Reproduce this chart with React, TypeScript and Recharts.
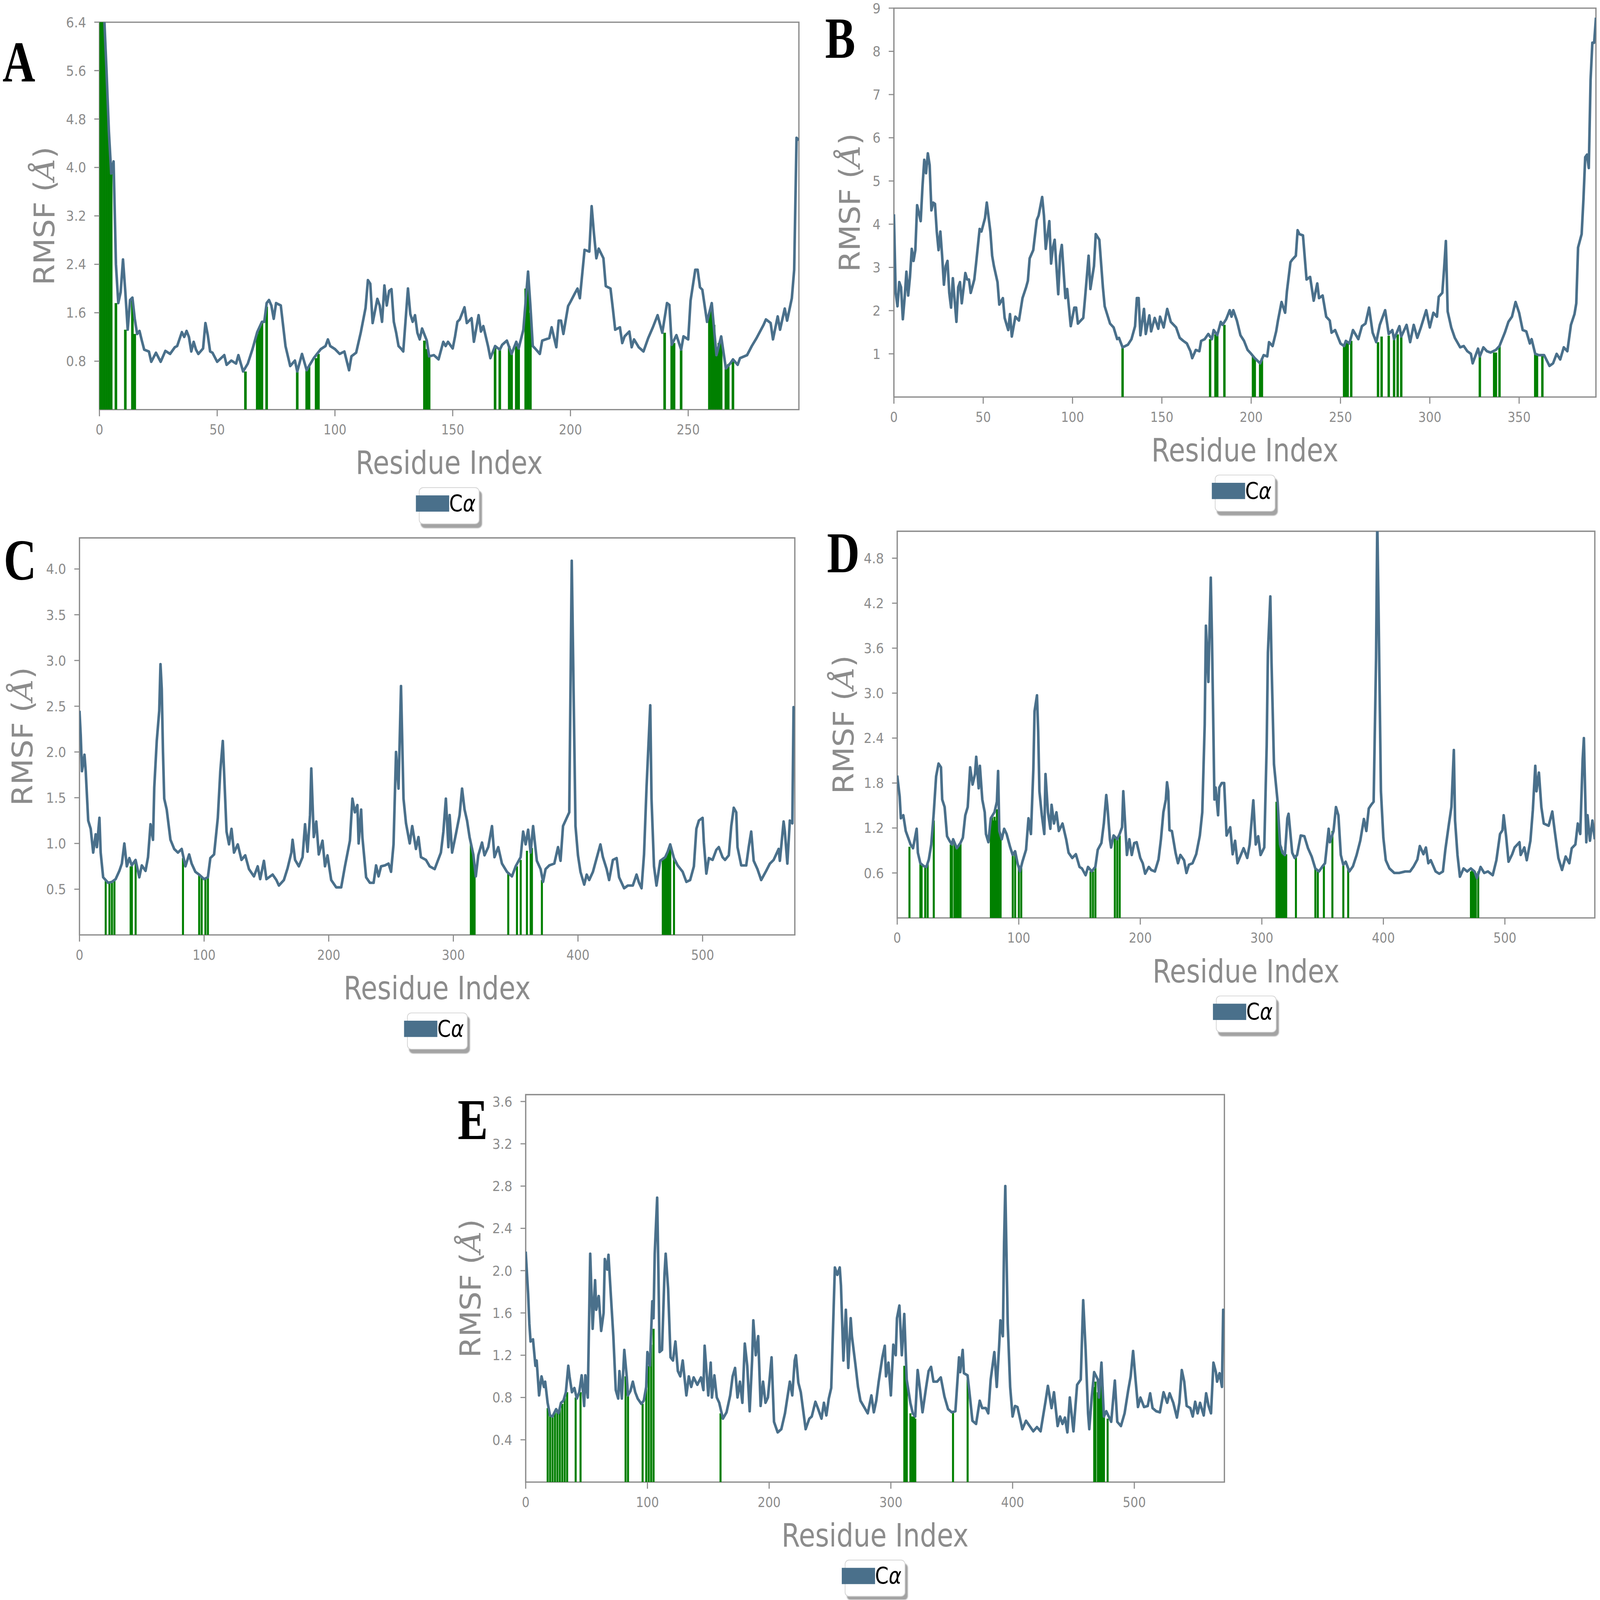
import React from "react";
import { ComposedChart, Line, Bar, XAxis, YAxis, ReferenceArea, Legend } from "recharts";

// RMSF (residue, value), plus green contact bars (residue, height)
const rmsfA: [number, number][] = [
  [0,7.0],[1,7.0],[2,6.5],[3,5.6],[4,4.6],[5,3.9],[6,4.1],[7,2.4],[8,1.76],[9,1.94],[10,2.48],[11,1.94],[12,1.32],[13,1.81],[14,1.85],[15,1.5],[16,1.25],[17,1.3],[18,1.14],[19,0.99],[21,0.96],[22,0.79],[24,0.94],[26,0.79],[28,0.97],[30,0.92],[32,1.03],[33,1.05],[35,1.28],[36,1.2],[37,1.3],[38,1.2],[39,0.96],[40,1.12],[41,0.99],[42,0.92],[44,1.01],[45,1.43],[46,1.23],[47,0.96],[48,0.94],[50,0.79],[53,0.9],[54,0.74],[56,0.81],[58,0.76],[59,0.9],[61,0.63],[63,0.76],[65,1.0],[67,1.28],[69,1.45],[70,1.45],[71,1.76],[72,1.81],[73,1.72],[74,1.5],[75,1.76],[77,1.72],[79,1.05],[81,0.72],[83,0.81],[84,0.63],[86,0.92],[88,0.65],[89,0.72],[91,0.85],[94,1.0],[96,1.05],[97,1.16],[98,1.05],[100,1.0],[102,0.92],[104,0.96],[106,0.65],[107,0.88],[109,0.94],[111,1.28],[113,1.68],[114,2.14],[115,2.08],[116,1.43],[118,1.83],[119,1.72],[120,1.45],[121,2.05],[122,1.72],[123,1.96],[124,1.99],[125,1.45],[126,1.27],[127,1.05],[128,1.01],[129,0.96],[131,2.0],[132,1.58],[133,1.45],[134,1.56],[135,1.27],[136,1.16],[137,1.34],[139,1.14],[140,0.88],[142,0.9],[144,0.83],[146,1.12],[147,1.05],[148,1.12],[150,1.01],[151,1.21],[152,1.45],[153,1.49],[155,1.69],[156,1.43],[158,1.51],[159,1.12],[161,1.56],[162,1.29],[163,1.38],[165,1.05],[166,0.85],[168,1.05],[170,0.99],[171,1.07],[173,1.14],[175,0.92],[177,1.12],[178,1.01],[180,1.32],[182,2.28],[183,1.71],[184,1.05],[185,1.01],[187,0.92],[188,1.14],[191,1.18],[192,1.36],[194,1.03],[195,1.47],[196,1.47],[197,1.25],[199,1.71],[200,1.78],[202,1.93],[203,2.0],[204,1.84],[206,2.64],[208,2.61],[209,3.36],[210,2.9],[211,2.5],[212,2.66],[214,2.5],[215,2.04],[217,2.0],[218,1.67],[219,1.32],[221,1.36],[222,1.1],[223,1.21],[225,1.29],[226,1.03],[227,1.16],[229,1.03],[231,0.96],[233,1.18],[235,1.36],[237,1.56],[239,1.27],[241,1.76],[242,1.73],[243,1.07],[245,1.23],[247,0.99],[248,1.21],[250,1.16],[251,1.8],[253,2.31],[254,2.31],[255,2.02],[256,1.98],[258,1.45],[260,1.76],[261,1.32],[262,0.9],[264,1.21],[266,0.68],[268,0.77],[269,0.83],[271,0.74],[272,0.85],[275,0.9],[277,1.05],[279,1.18],[282,1.4],[283,1.49],[285,1.43],[286,1.16],[288,1.54],[289,1.32],[291,1.67],[292,1.47],[294,1.84],[295,2.31],[296,4.49],[297,4.45],
];
const contactsA: [number, number][] = [
  [0,7],[1,7],[2,6.6],[3,5.6],[4,4.6],[5,3.9],[7,1.76],[11,1.32],[14,1.8],[15,1.25],[62,0.63],[67,1.25],[68,1.35],[69,1.45],[71,1.7],[84,0.63],[88,0.65],[89,0.72],[92,0.85],[93,0.92],[138,1.14],[139,1.0],[140,0.88],[168,1.05],[170,0.99],[174,1.05],[175,0.95],[177,1.05],[178,1.0],[181,2.0],[182,2.2],[183,1.6],[240,1.27],[243,1.07],[244,1.1],[247,0.99],[259,1.6],[260,1.7],[261,1.4],[262,1.0],[263,1.1],[264,1.2],[266,0.7],[267,0.75],[269,0.8],
];

const rmsfB: [number, number][] = [
  [0,4.23],[1,2.41],[2,2.1],[3,2.66],[4,2.54],[5,1.8],[6,2.29],[7,2.9],[8,2.35],[9,2.78],[10,3.43],[11,3.15],[12,3.4],[13,4.44],[15,4.07],[16,4.87],[17,5.49],[18,5.18],[19,5.64],[20,5.37],[21,4.32],[22,4.5],[23,4.47],[24,3.83],[25,3.4],[26,3.83],[27,3.27],[28,2.6],[29,3.03],[30,3.15],[31,2.41],[32,2.07],[33,2.75],[35,1.74],[36,2.54],[37,2.66],[38,2.17],[40,2.87],[41,2.72],[42,2.72],[43,2.41],[45,2.72],[46,3.09],[48,3.89],[49,3.83],[51,4.14],[52,4.5],[54,3.83],[55,3.27],[56,3.03],[58,2.66],[59,2.14],[61,2.29],[62,1.83],[64,1.55],[65,1.92],[66,1.4],[68,1.86],[70,1.77],[72,2.29],[74,2.54],[75,2.69],[76,3.21],[78,3.4],[80,4.1],[81,4.2],[83,4.63],[84,4.2],[85,3.43],[87,4.07],[88,3.09],[89,3.46],[90,3.64],[92,2.38],[93,3.27],[94,3.52],[96,2.29],[97,2.5],[99,1.64],[101,2.07],[102,2.07],[103,1.7],[106,1.83],[107,2.29],[109,3.27],[110,2.5],[112,3.03],[113,3.77],[115,3.64],[117,2.54],[118,2.1],[121,1.7],[123,1.61],[125,1.34],[126,1.37],[128,1.15],[131,1.21],[133,1.34],[135,1.64],[136,2.29],[137,2.29],[138,1.43],[140,2.04],[141,1.46],[143,1.89],[144,1.52],[146,1.83],[148,1.58],[149,1.86],[151,1.61],[153,2.04],[155,1.74],[158,1.61],[160,1.37],[162,1.3],[164,1.24],[166,1.06],[167,0.9],[169,1.09],[171,1.06],[172,1.3],[174,1.34],[176,1.46],[178,1.34],[179,1.55],[181,1.43],[183,1.74],[184,1.67],[186,1.8],[188,2.01],[189,1.86],[190,2.01],[192,1.77],[194,1.43],[196,1.3],[198,1.09],[200,1.0],[202,0.9],[205,0.78],[207,0.97],[209,0.94],[210,1.27],[212,1.18],[214,1.52],[215,1.77],[217,2.2],[219,1.95],[220,2.44],[222,3.12],[223,3.18],[225,3.27],[226,3.86],[227,3.77],[229,3.74],[231,2.72],[233,2.78],[235,2.23],[237,2.63],[238,2.29],[240,2.35],[242,1.86],[244,1.77],[245,1.49],[247,1.55],[250,1.24],[252,1.18],[253,1.3],[255,1.24],[257,1.55],[260,1.34],[262,1.64],[264,1.7],[266,2.07],[268,1.49],[270,1.27],[272,1.67],[275,2.01],[277,1.46],[279,1.55],[280,1.34],[283,1.64],[284,1.4],[287,1.67],[289,1.27],[291,1.67],[293,1.37],[295,1.61],[298,2.01],[300,1.61],[302,1.95],[304,1.86],[305,2.32],[307,2.41],[308,2.97],[309,3.61],[310,1.98],[312,1.61],[314,1.37],[317,1.15],[319,1.18],[321,1.06],[323,1.0],[324,0.78],[327,1.12],[328,0.94],[330,1.15],[332,1.06],[334,1.03],[337,1.09],[339,1.18],[342,1.49],[344,1.74],[346,1.86],[348,2.2],[350,1.95],[352,1.55],[354,1.52],[356,1.24],[357,1.34],[359,1.0],[361,0.97],[364,0.97],[367,0.72],[369,0.78],[371,1.0],[373,0.87],[375,1.15],[377,1.06],[379,1.67],[381,1.92],[382,2.17],[383,3.46],[385,3.77],[386,4.57],[387,5.55],[388,5.61],[389,5.3],[390,7.34],[391,8.2],[392,8.2],[393,8.78],
];
const contactsB: [number, number][] = [
  [128,1.15],[177,1.34],[180,1.45],[181,1.43],[185,1.67],[201,0.95],[202,0.9],[205,0.8],[206,0.9],[252,1.18],[253,1.25],[254,1.25],[256,1.3],[271,1.27],[273,1.4],[277,1.42],[280,1.4],[282,1.45],[284,1.5],[328,0.94],[336,1.03],[337,1.03],[339,1.18],[359,1.0],[360,1.0],[363,0.95],
];

const rmsfC: [number, number][] = [
  [0,2.45],[1,2.18],[2,1.79],[4,1.97],[5,1.79],[7,1.25],[9,1.16],[11,0.9],[13,1.1],[14,0.96],[16,1.28],[17,0.9],[19,0.63],[23,0.57],[26,0.58],[29,0.61],[32,0.7],[34,0.78],[36,1.0],[38,0.75],[40,0.84],[42,0.76],[45,0.82],[48,0.63],[50,0.76],[53,0.7],[55,0.85],[57,1.21],[59,1.04],[60,1.61],[62,2.12],[64,2.45],[65,2.96],[66,2.69],[67,2.0],[68,1.49],[70,1.37],[73,1.04],[76,0.94],[79,0.9],[82,0.94],[85,0.75],[88,0.88],[90,0.78],[93,0.69],[96,0.66],[100,0.61],[103,0.63],[105,0.84],[108,0.88],[111,1.28],[113,1.79],[115,2.12],[116,1.79],[118,1.13],[120,0.99],[122,1.16],[124,0.9],[127,0.99],[130,0.82],[133,0.87],[136,0.72],[140,0.64],[143,0.75],[145,0.61],[148,0.81],[150,0.61],[155,0.66],[158,0.6],[160,0.54],[164,0.6],[167,0.73],[170,0.9],[171,1.04],[173,0.82],[176,0.75],[179,0.85],[181,1.21],[183,0.91],[185,1.31],[186,1.82],[188,1.07],[190,1.24],[192,0.88],[195,1.03],[197,0.75],[199,0.87],[202,0.6],[206,0.52],[210,0.52],[213,0.75],[217,1.03],[219,1.49],[221,1.34],[223,1.42],[224,1.0],[226,1.37],[227,1.07],[230,0.63],[233,0.57],[236,0.57],[238,0.76],[240,0.64],[242,0.75],[245,0.76],[248,0.78],[250,0.69],[252,0.99],[254,2.0],[256,1.6],[258,2.72],[260,1.49],[262,1.22],[265,1.0],[267,1.19],[270,0.94],[272,1.07],[274,0.85],[278,0.82],[281,0.75],[285,0.72],[290,0.9],[292,1.13],[294,1.49],[296,0.96],[297,1.31],[299,0.9],[302,1.1],[305,1.31],[307,1.6],[309,1.37],[311,1.25],[313,1.07],[316,0.88],[318,0.64],[320,0.87],[323,1.01],[325,0.87],[328,0.96],[331,1.19],[333,0.85],[336,0.96],[339,0.78],[343,0.69],[347,0.64],[350,0.75],[354,0.85],[356,1.13],[358,0.99],[360,1.15],[362,0.9],[364,1.19],[367,0.81],[370,0.72],[372,0.58],[374,0.72],[377,0.76],[381,0.78],[384,0.96],[386,0.81],[388,1.19],[390,1.25],[393,1.34],[394,2.69],[395,4.09],[396,3.13],[398,1.19],[400,0.87],[402,0.69],[405,0.55],[407,0.66],[409,0.6],[412,0.69],[415,0.84],[418,0.99],[420,0.85],[423,0.72],[425,0.6],[428,0.82],[431,0.84],[433,0.63],[437,0.51],[440,0.54],[444,0.54],[447,0.66],[449,0.57],[451,0.51],[453,0.88],[455,1.61],[458,2.51],[459,1.49],[461,0.75],[463,0.54],[466,0.81],[470,0.85],[472,0.91],[474,0.99],[477,0.84],[480,0.76],[484,0.69],[487,0.58],[490,0.6],[493,0.75],[495,1.16],[497,1.25],[500,1.28],[501,1.01],[503,0.67],[505,0.84],[508,0.82],[511,0.93],[513,0.96],[516,0.85],[518,0.82],[521,0.87],[523,1.19],[525,1.39],[527,1.34],[528,0.96],[531,0.76],[535,0.76],[537,0.96],[539,1.13],[541,0.81],[544,0.72],[547,0.6],[551,0.7],[554,0.78],[557,0.82],[561,0.94],[562,0.81],[565,1.24],[566,1.13],[568,0.78],[570,1.25],[572,1.22],[573,2.49],[574,2.45],
];
const contactsC: [number, number][] = [
  [21,0.6],[24,0.58],[26,0.58],[28,0.6],[41,0.75],[42,0.76],[45,0.8],[83,0.84],[96,0.66],[98,0.63],[101,0.62],[103,0.63],[314,1.0],[315,0.95],[316,0.88],[317,0.75],[344,0.67],[351,0.75],[354,0.82],[359,0.92],[362,0.9],[363,0.95],[371,0.6],[468,0.82],[469,0.85],[470,0.85],[471,0.88],[472,0.9],[473,0.95],[474,0.95],[477,0.84],
];

const rmsfD: [number, number][] = [
  [0,1.9],[2,1.62],[3,1.33],[5,1.37],[7,1.16],[9,1.07],[11,0.98],[13,0.93],[16,1.19],[17,0.87],[19,0.73],[22,0.69],[24,0.68],[26,0.78],[28,0.98],[30,1.39],[32,1.89],[34,2.06],[36,2.01],[37,1.58],[39,1.48],[41,1.09],[43,1.03],[45,0.98],[46,1.05],[49,0.93],[52,1.0],[54,1.07],[56,1.37],[58,1.48],[60,2.01],[62,1.78],[64,1.92],[65,2.15],[67,1.73],[68,2.03],[70,1.58],[72,1.41],[73,1.12],[75,1.01],[77,1.33],[80,1.41],[82,1.55],[83,1.96],[84,1.16],[86,1.05],[88,1.19],[90,1.12],[93,0.94],[95,0.84],[97,0.89],[99,0.73],[101,0.62],[103,0.75],[106,0.91],[108,1.33],[110,1.12],[112,1.98],[113,2.76],[115,2.97],[116,2.48],[117,1.69],[119,1.37],[121,1.12],[122,1.92],[124,1.41],[126,1.19],[127,1.51],[129,1.26],[131,1.41],[133,1.16],[136,1.26],[139,1.05],[141,0.87],[144,0.8],[147,0.85],[150,0.68],[152,0.66],[155,0.57],[157,0.68],[160,0.62],[163,0.68],[165,0.91],[168,1.0],[170,1.26],[172,1.64],[173,1.48],[175,1.05],[176,0.94],[178,1.1],[181,1.05],[183,1.12],[185,1.21],[186,1.69],[189,0.84],[191,1.05],[193,0.84],[195,1.0],[197,1.01],[200,0.8],[202,0.73],[204,0.59],[207,0.68],[209,0.64],[212,0.62],[215,0.78],[217,1.05],[219,1.41],[221,1.58],[222,1.81],[223,1.69],[224,1.17],[226,1.16],[229,0.87],[231,0.73],[233,0.84],[236,0.77],[238,0.6],[240,0.71],[243,0.73],[246,0.85],[249,1.1],[251,1.41],[253,2.58],[254,3.9],[256,3.15],[257,3.86],[258,4.54],[259,3.72],[261,1.58],[262,1.74],[264,1.37],[265,1.74],[267,1.8],[269,1.8],[271,1.1],[274,1.21],[276,0.85],[278,1.03],[280,0.73],[283,0.85],[285,0.93],[288,0.8],[290,0.98],[293,1.57],[295,0.98],[297,1.09],[299,0.84],[302,0.94],[304,2.3],[305,3.54],[307,4.29],[308,3.4],[310,2.05],[313,1.55],[315,0.98],[317,0.87],[319,0.84],[321,1.33],[322,1.39],[325,0.87],[327,0.8],[329,0.84],[332,1.1],[335,1.09],[338,0.93],[341,0.82],[344,0.66],[347,0.62],[350,0.69],[352,0.73],[355,1.19],[356,1.01],[359,1.16],[361,1.48],[363,1.37],[365,0.84],[367,0.71],[369,0.75],[372,0.62],[375,0.69],[378,0.84],[381,1.03],[384,1.32],[386,1.16],[388,1.46],[390,1.51],[392,1.55],[394,3.47],[395,5.3],[396,4.18],[398,1.69],[400,1.07],[402,0.77],[405,0.66],[409,0.6],[413,0.6],[418,0.62],[422,0.62],[425,0.69],[428,0.78],[430,0.96],[433,0.85],[435,0.94],[437,0.73],[439,0.77],[443,0.62],[446,0.59],[449,0.62],[451,0.91],[454,1.26],[456,1.48],[458,2.24],[459,1.3],[461,0.84],[463,0.55],[466,0.66],[469,0.62],[472,0.66],[475,0.62],[477,0.53],[480,0.68],[483,0.6],[486,0.62],[490,0.57],[493,0.77],[496,1.12],[498,1.17],[499,1.37],[501,1.09],[503,0.75],[506,0.85],[508,0.94],[512,1.01],[513,0.84],[516,0.94],[518,0.77],[521,1.03],[523,1.44],[525,2.03],[526,1.69],[528,1.94],[530,1.48],[532,1.26],[536,1.23],[539,1.42],[541,1.16],[544,0.8],[547,0.64],[550,0.82],[553,0.73],[555,0.93],[558,0.98],[560,1.26],[562,1.12],[564,2.12],[565,2.4],[567,1.01],[568,1.37],[570,1.03],[572,1.3],[574,1.05],
];
const contactsD: [number, number][] = [
  [10,0.95],[19,0.73],[20,0.7],[23,0.69],[25,0.72],[30,1.3],[44,0.98],[45,1.0],[47,1.0],[48,0.95],[49,0.93],[50,0.95],[51,0.98],[52,1.0],[77,1.3],[78,1.35],[79,1.3],[80,1.35],[81,1.3],[82,1.45],[83,1.3],[84,1.2],[85,1.1],[95,0.84],[97,0.85],[100,0.7],[102,0.7],[159,0.62],[161,0.62],[163,0.68],[179,1.08],[181,1.05],[183,1.1],[312,1.55],[313,1.45],[314,1.2],[315,1.0],[316,0.95],[317,0.9],[318,0.87],[319,0.85],[320,0.85],[328,0.84],[344,0.66],[346,0.62],[351,0.7],[358,1.16],[367,0.72],[371,0.65],[472,0.62],[473,0.64],[474,0.63],[475,0.62],[476,0.6],[478,0.62],
];

const rmsfE: [number, number][] = [
  [0,2.18],[2,1.78],[3,1.5],[4,1.33],[6,1.35],[8,1.1],[9,1.15],[11,0.82],[13,1.0],[15,0.9],[16,0.95],[18,0.75],[20,0.63],[22,0.62],[25,0.69],[27,0.65],[29,0.75],[31,0.77],[33,0.85],[35,1.1],[36,1.0],[38,0.85],[40,0.89],[42,0.79],[44,0.85],[46,1.01],[48,0.72],[49,1.01],[51,0.8],[53,2.16],[54,1.81],[55,1.45],[57,1.91],[58,1.63],[60,1.76],[62,1.43],[64,1.6],[65,2.11],[67,2.01],[68,2.15],[70,1.76],[72,1.38],[74,0.87],[76,0.79],[77,1.05],[79,0.79],[81,1.25],[83,1.0],[84,0.82],[86,0.86],[88,0.95],[90,0.85],[92,0.79],[95,0.74],[97,0.77],[99,0.9],[100,1.23],[102,1.1],[104,1.71],[105,1.55],[106,2.16],[108,2.69],[109,2.01],[110,1.23],[112,1.25],[114,1.96],[115,2.16],[117,1.83],[119,1.18],[121,1.15],[123,1.33],[125,1.05],[127,1.0],[129,1.15],[132,0.82],[134,1.0],[136,0.9],[138,0.99],[141,0.92],[144,0.99],[146,0.87],[147,1.29],[150,0.82],[152,1.13],[153,0.8],[155,1.01],[157,0.8],[159,0.75],[162,0.6],[165,0.66],[168,0.82],[170,1.0],[172,1.08],[174,0.8],[176,0.95],[178,0.75],[180,1.31],[182,1.1],[184,0.67],[186,1.15],[187,1.53],[189,1.2],[191,1.38],[193,0.72],[195,0.95],[197,0.75],[199,0.8],[202,1.18],[204,0.57],[207,0.47],[210,0.5],[213,0.65],[215,0.8],[217,0.95],[219,0.82],[221,1.15],[222,1.2],[224,0.94],[226,0.85],[230,0.5],[233,0.6],[235,0.62],[238,0.76],[240,0.7],[243,0.6],[245,0.75],[247,0.63],[249,0.79],[251,0.89],[254,2.03],[256,1.96],[258,2.03],[259,1.86],[261,1.15],[263,1.63],[265,1.08],[267,1.55],[268,1.38],[271,1.1],[273,0.9],[275,0.77],[278,0.71],[281,0.65],[284,0.82],[286,0.66],[288,0.77],[290,0.95],[293,1.18],[295,1.29],[296,1.0],[298,1.13],[300,0.82],[302,1.3],[304,1.2],[305,1.55],[307,1.67],[309,1.2],[311,1.59],[313,0.97],[316,0.75],[318,0.65],[320,0.62],[322,1.06],[324,0.87],[326,0.66],[329,0.9],[331,1.05],[333,1.09],[335,0.95],[338,0.95],[341,0.99],[344,0.81],[347,0.69],[350,0.66],[353,0.67],[356,1.18],[357,1.04],[359,1.25],[360,1.03],[363,1.01],[365,0.8],[367,0.58],[370,0.55],[373,0.77],[375,0.7],[378,0.7],[380,0.65],[382,0.97],[385,1.23],[387,0.9],[389,1.3],[390,1.53],[392,1.38],[393,2.26],[394,2.8],[396,1.5],[398,0.9],[400,0.62],[402,0.72],[404,0.71],[408,0.5],[411,0.58],[414,0.53],[417,0.48],[420,0.52],[423,0.48],[425,0.62],[427,0.76],[429,0.91],[432,0.7],[434,0.85],[437,0.53],[439,0.62],[441,0.55],[443,0.61],[445,0.47],[447,0.8],[450,0.48],[453,0.92],[456,0.97],[457,1.35],[458,1.72],[460,1.25],[462,0.65],[463,0.5],[465,0.8],[467,1.04],[470,0.97],[471,0.8],[473,1.13],[475,0.62],[477,0.67],[481,0.57],[484,0.96],[486,0.57],[489,0.53],[492,0.65],[495,0.87],[497,1.0],[499,1.24],[501,0.97],[503,0.71],[505,0.8],[508,0.71],[511,0.72],[513,0.84],[515,0.7],[518,0.67],[521,0.66],[524,0.85],[527,0.75],[529,0.84],[532,0.75],[535,0.61],[537,0.75],[539,1.06],[541,0.95],[543,0.72],[546,0.7],[548,0.62],[550,0.76],[552,0.65],[554,0.75],[557,0.63],[559,0.84],[561,0.72],[563,0.65],[565,1.13],[567,1.04],[568,0.95],[570,1.03],[572,0.9],[573,1.63],[574,1.6],
];
const contactsE: [number, number][] = [
  [18,0.7],[20,0.63],[22,0.62],[24,0.66],[26,0.68],[28,0.7],[30,0.74],[32,0.8],[34,0.85],[41,0.8],[45,0.85],[82,1.0],[84,0.82],[96,0.74],[99,0.9],[101,1.1],[103,1.3],[105,1.45],[160,0.65],[311,1.1],[312,1.05],[313,1.0],[316,0.65],[317,0.62],[318,0.62],[319,0.62],[320,0.6],[351,0.66],[363,0.97],[467,0.9],[468,0.95],[470,0.85],[471,0.82],[472,0.95],[473,1.0],[474,0.9],[475,0.62],[478,0.6],
];

const xTicksA = [0, 50, 100, 150, 200, 250];
const xTicksB = [0, 50, 100, 150, 200, 250, 300, 350];
const xTicksLong = [0, 100, 200, 300, 400, 500];
const yTicksA = [0.8, 1.6, 2.4, 3.2, 4.0, 4.8, 5.6, 6.4];
const yTicksB = [1, 2, 3, 4, 5, 6, 7, 8, 9];
const yTicksC = [0.5, 1.0, 1.5, 2.0, 2.5, 3.0, 3.5, 4.0];
const yTicksD = [0.6, 1.2, 1.8, 2.4, 3.0, 3.6, 4.2, 4.8];
const yTicksE = [0.4, 0.8, 1.2, 1.6, 2.0, 2.4, 2.8, 3.2, 3.6];

const LINE = "#4a708b";
const CONTACT = "#008000";
const AXIS = "#8c8c8c";
const FONT = "'DejaVu Sans', 'Noto Sans', sans-serif";

// the figure is laid out on a 4328 px grid, then shrunk to whatever the window gives
const FIG_W = 4328;
const FIG_H = 4327;

// space around each plot area inside its chart
const ML = 300;
const MT = 40;
const MR = 20;
const MB = 330;
const XH = 200;

type Row = { res: number; rmsf?: number; contact?: number };

function buildRows(rmsf: [number, number][], contacts: [number, number][]): Row[] {
  const map = new Map<number, Row>();
  for (const [res, v] of rmsf) map.set(res, { res, rmsf: v });
  for (const [res, h] of contacts) {
    const row = map.get(res) ?? { res };
    row.contact = h;
    map.set(res, row);
  }
  return [...map.values()].sort((a, b) => a.res - b.res);
}

const panels = [
  { tag: "A", rmsf: rmsfA, contacts: contactsA, xTicks: xTicksA, yTicks: yTicksA, xMax: 297, yMax: 6.4, digits: 1, left: 269, top: 60, width: 1892, height: 1048, titleGap: 150, barW: 7, letter: [7, 220] },
  { tag: "B", rmsf: rmsfB, contacts: contactsB, xTicks: xTicksB, yTicks: yTicksB, xMax: 393, yMax: 9, digits: 0, left: 2418, top: 22, width: 1899, height: 1052, titleGap: 120, barW: 6.5, letter: [2232, 156] },
  { tag: "C", rmsf: rmsfC, contacts: contactsC, xTicks: xTicksLong, yTicks: yTicksC, xMax: 574, yMax: 4.34, digits: 1, left: 215, top: 1455, width: 1935, height: 1074, titleGap: 155, barW: 5.5, letter: [10, 1568] },
  { tag: "D", rmsf: rmsfD, contacts: contactsD, xTicks: xTicksLong, yTicks: yTicksD, xMax: 574, yMax: 5.16, digits: 1, left: 2427, top: 1437, width: 1887, height: 1046, titleGap: 146, barW: 5.5, letter: [2237, 1548] },
  { tag: "E", rmsf: rmsfE, contacts: contactsE, xTicks: xTicksLong, yTicks: yTicksE, xMax: 574, yMax: 3.665, digits: 1, left: 1422, top: 2961, width: 1890, height: 1048, titleGap: 150, barW: 5.5, letter: [1238, 3081] },
];

type Panel = (typeof panels)[number];

function XTick(props: any) {
  const { x, y, payload } = props;
  return (
    <g transform={`translate(${x},${y})`}>
      <text x={0} y={0} dy="0.71em" textAnchor="middle" fill={AXIS} fontSize={38} fontFamily={FONT} transform="scale(0.86,1)">
        {payload.value}
      </text>
    </g>
  );
}

function makeYTick(digits: number) {
  return function YTick(props: any) {
    const { x, y, payload } = props;
    return (
      <g transform={`translate(${x},${y})`}>
        <text x={0} y={0} dy="0.355em" textAnchor="end" fill={AXIS} fontSize={38} fontFamily={FONT} transform="scale(0.9,1)">
          {Number(payload.value).toFixed(digits)}
        </text>
      </g>
    );
  };
}

// bars on a numeric axis get squeezed to the tightest data spacing; keep one residue wide
function makeContactBar(barW: number) {
  return function ContactBar(props: any) {
    const { x, y, width, height } = props;
    if (!height || height <= 0) return <g />;
    return <rect x={x + width / 2 - barW / 2} y={y} width={barW} height={height} fill={CONTACT} />;
  };
}

function CaLegend() {
  return (
    <div style={{ position: "relative", width: 190, height: 120 }}>
      <div
        style={{
          position: "absolute",
          left: 8,
          top: 0,
          width: 160,
          height: 96,
          borderRadius: 12,
          border: "2px solid #d4d4d4",
          background: "#fff",
          boxShadow: "6px 10px 3px #a3a3a3",
        }}
      />
      <div style={{ position: "absolute", left: 0, top: 22, width: 90, height: 44, background: LINE }} />
      <div
        style={{
          position: "absolute",
          left: 90,
          top: 8,
          fontFamily: FONT,
          fontSize: 62,
          lineHeight: "72px",
          color: "#000",
          transform: "scaleX(0.85)",
          transformOrigin: "left center",
        }}
      >
        C<span style={{ fontStyle: "italic" }}>α</span>
      </div>
    </div>
  );
}

function RmsfPanel({ p }: { p: Panel }) {
  const rows = buildRows(p.rmsf, p.contacts);
  const w = p.width + ML + MR;
  const h = p.height + MT + MB;
  const yTitle = () => {
    const cx = ML - p.titleGap;
    const cy = MT + p.height / 2;
    return (
      <text
        x={cx}
        y={cy}
        transform={`rotate(-90 ${cx} ${cy})`}
        textAnchor="middle"
        dominantBaseline="central"
        fill={AXIS}
        fontSize={78}
        fontFamily={FONT}
        textLength={375}
        lengthAdjust="spacingAndGlyphs"
      >
        RMSF (<tspan fontStyle="italic" fontFamily="'DejaVu Serif', serif">Å</tspan>)
      </text>
    );
  };
  const xTitle = () => (
    <text
      x={ML + p.width / 2}
      y={MT + p.height + 174}
      textAnchor="middle"
      fill={AXIS}
      fontSize={86}
      fontFamily={FONT}
      textLength={506}
      lengthAdjust="spacingAndGlyphs"
    >
      Residue Index
    </text>
  );
  return (
    <div style={{ position: "absolute", left: p.left - ML, top: p.top - MT, width: w, height: h }}>
      <ComposedChart width={w} height={h} data={rows} margin={{ top: MT, right: MR, bottom: MB - XH, left: 0 }}>
        <XAxis
          dataKey="res"
          type="number"
          domain={[0, p.xMax]}
          ticks={p.xTicks}
          interval={0}
          allowDataOverflow
          height={XH}
          axisLine={false}
          tickLine={{ stroke: AXIS, strokeWidth: 3 }}
          tickSize={18}
          tickMargin={22}
          tick={XTick}
          padding={{ left: 0, right: 0 }}
          label={xTitle}
        />
        <YAxis
          type="number"
          domain={[0, p.yMax]}
          ticks={p.yTicks}
          interval={0}
          allowDataOverflow
          width={ML}
          axisLine={false}
          tickLine={{ stroke: AXIS, strokeWidth: 3 }}
          tickSize={14}
          tickMargin={22}
          tick={makeYTick(p.digits)}
          label={yTitle}
        />
        <Bar dataKey="contact" fill={CONTACT} shape={makeContactBar(p.barW)} isAnimationActive={false} legendType="none" />
        <Line
          dataKey="rmsf"
          type="linear"
          stroke={LINE}
          strokeWidth={7}
          strokeLinejoin="round"
          dot={false}
          activeDot={false}
          connectNulls
          isAnimationActive={false}
        />
        <ReferenceArea x1={0} x2={p.xMax} y1={0} y2={p.yMax} fill="none" stroke={AXIS} strokeWidth={3.5} ifOverflow="visible" />
        <Legend
          layout="horizontal"
          verticalAlign="middle"
          align="center"
          content={() => <CaLegend />}
          wrapperStyle={{ position: "absolute", left: ML + p.width / 2 - 90, top: MT + p.height + 210, width: 190, height: 120 }}
        />
      </ComposedChart>
    </div>
  );
}

export default function App() {
  const scale =
    typeof window !== "undefined" ? Math.min(1, window.innerWidth / FIG_W, window.innerHeight / FIG_H) : 1;
  return (
    <div
      style={{
        position: "absolute",
        left: 0,
        top: 0,
        width: FIG_W,
        height: FIG_H,
        background: "#fff",
        overflow: "hidden",
        transform: `scale(${scale})`,
        transformOrigin: "0 0",
      }}
    >
      {panels.map((p) => (
        <RmsfPanel key={p.tag} p={p} />
      ))}
      <svg width={FIG_W} height={FIG_H} style={{ position: "absolute", left: 0, top: 0, pointerEvents: "none" }}>
        {panels.map((p) => (
          <text
            key={p.tag}
            x={0}
            y={0}
            transform={`translate(${p.letter[0]},${p.letter[1]}) scale(0.78,1)`}
            fontFamily="'Liberation Serif', 'Times New Roman', serif"
            fontWeight="bold"
            fontSize={157}
            fill="#000"
          >
            {p.tag}
          </text>
        ))}
      </svg>
    </div>
  );
}
